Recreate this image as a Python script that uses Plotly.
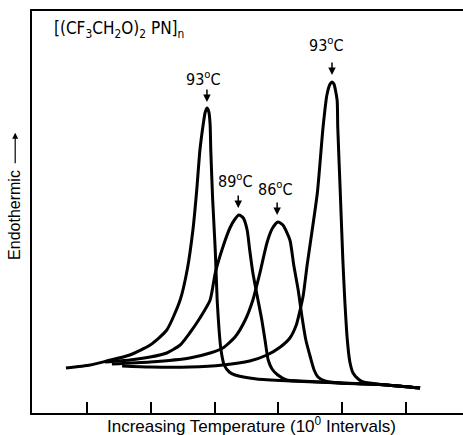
import plotly.graph_objects as go

# Temperature offset (deg C, ticks every 10 deg) and endothermic signal (arbitrary units)
c1_x = [-3.3, 0.5, 3.1, 6.7, 9.9, 12.5, 14.6, 15.7, 16.6, 17.2, 17.7, 18.2, 18.5, 18.8, 19.1, 19.3, 19.4, 19.7, 20.1, 20.4, 20.7, 21.0, 21.5, 22.3, 23.2, 26.6, 31.8, 39.7, 47.0, 52.2]
c1_y = [11.25, 12, 13, 14.5, 17, 20.75, 28.25, 35.75, 45.75, 55.75, 65.75, 72, 75, 76.25, 75.25, 72, 65.75, 53.25, 40.75, 28.25, 20.75, 15.75, 12, 10.25, 9.5, 8.5, 8, 7.5, 7, 6.25]

c2_x = [2.8, 6.7, 9.9, 12.5, 14.6, 16.1, 17.7, 19.3, 20.1, 21.3, 22.4, 23.2, 23.8, 24.5, 25.1, 25.5, 26.0, 26.8, 27.4, 27.9, 28.4, 29.0, 29.9, 31.3, 33.4, 39.7, 47.0, 52.2]
c2_y = [12.75, 13.25, 14, 15, 17, 20, 23.75, 28.25, 35, 41.5, 46.25, 48.5, 49.5, 48.75, 45.75, 40.75, 35, 28.25, 23.25, 18.25, 13.25, 11, 9.5, 8.25, 8, 7.5, 7, 6.25]

c3_x = [3.9, 9.9, 16.1, 19.3, 21.3, 23.2, 24.8, 26.0, 27.1, 28.2, 29.0, 29.9, 30.7, 31.8, 32.4, 33.1, 33.7, 34.3, 35.0, 35.6, 36.2, 37.3, 39.7, 47.0, 52.2]
c3_y = [12.25, 12.75, 13.75, 15, 16.25, 19, 23.25, 28.25, 35, 42.5, 46, 47.75, 47, 43.25, 37, 30.75, 24, 18.25, 14, 10.75, 9, 8, 7.5, 7, 6.25]

c4_x = [5.5, 9.9, 16.1, 21.3, 25.5, 28.2, 30.3, 31.8, 32.8, 33.4, 33.9, 34.5, 35.0, 36.1, 37.0, 37.6, 38.1, 38.4, 38.7, 39.2, 39.3, 39.7, 40.1, 40.4, 40.8, 41.2, 41.7, 42.5, 43.3, 47.0, 52.2]
c4_y = [11.75, 11.5, 11.5, 12, 13, 14.5, 16.5, 18.75, 22, 25.75, 29.5, 37, 42.5, 55, 71.5, 79.5, 82.25, 82.75, 82.25, 78.25, 71.5, 55, 38.25, 28.25, 18.25, 12.75, 10, 8.5, 7.75, 7, 6.25]

curves_x = [c1_x, c2_x, c3_x, c4_x]
curves_y = [c1_y, c2_y, c3_y, c4_y]

peak_labels = ["93<sup>o</sup>C", "89<sup>o</sup>C", "86<sup>o</sup>C", "93<sup>o</sup>C"]
label_x = [18.3, 23.2, 29.6, 37.5]
label_y = [83.75, 58.25, 56.25, 92.25]
arrow_x = [18.8, 23.7, 29.8, 38.4]
arrow_tip_y = [77.75, 51.25, 49.5, 84.5]

tick_vals = [0, 10, 20, 30, 40, 50]

title_text = "[(CF<sub>3</sub>CH<sub>2</sub>O)<sub>2</sub> PN]<sub>n</sub>"
x_title = "Increasing Temperature (10<sup>0</sup> Intervals)"
y_title = "Endothermic"

FONT = "Liberation Sans Narrow, DejaVu Sans Condensed, Liberation Sans, sans-serif"

fig = go.Figure()
for xs, ys in zip(curves_x, curves_y):
    fig.add_trace(go.Scatter(x=xs, y=ys, mode="lines",
                             line=dict(color="black", width=3, shape="spline", smoothing=0.6),
                             hoverinfo="skip", showlegend=False))

for t, lx, ly in zip(peak_labels, label_x, label_y):
    fig.add_annotation(x=lx, y=ly, xref="x", yref="y", text=t, showarrow=False,
                       font=dict(family=FONT, size=16, color="black"),
                       xanchor="center", yanchor="middle")
for ax_, ty in zip(arrow_x, arrow_tip_y):
    fig.add_annotation(x=ax_, y=ty, xref="x", yref="y", text="", showarrow=True,
                       ax=0, ay=-14, arrowhead=2, arrowsize=1, arrowwidth=1.5,
                       arrowcolor="black", standoff=0, startstandoff=0)

fig.add_annotation(x=0.047, y=0.953, xref="paper", yref="paper", text=title_text,
                   showarrow=False, xanchor="left", yanchor="middle",
                   font=dict(family=FONT, size=17, color="black"))
fig.add_annotation(x=0.51, y=-0.030, xref="paper", yref="paper", text=x_title,
                   showarrow=False, xanchor="center", yanchor="middle",
                   font=dict(family="Liberation Sans, sans-serif", size=17, color="black"))
fig.add_annotation(x=-0.042, y=0.4925, xref="paper", yref="paper", text=y_title,
                   showarrow=False, textangle=-90, xanchor="center", yanchor="middle",
                   font=dict(family="Liberation Sans, sans-serif", size=16, color="black"))
fig.add_annotation(x=-0.039, y=0.697, xref="paper", yref="paper", text="",
                   showarrow=True, ax=0, ay=32, arrowhead=2, arrowsize=1,
                   arrowwidth=1.2, arrowcolor="black", standoff=0)

fig.update_layout(
    width=463, height=435,
    margin=dict(l=32, r=0, t=11, b=22),
    paper_bgcolor="white", plot_bgcolor="white",
    xaxis=dict(range=[-8.62, 58.93], showgrid=False, zeroline=False,
               showline=True, mirror=True, linecolor="black", linewidth=2,
               ticks="inside", ticklen=11, tickwidth=2, tickcolor="black",
               tickvals=tick_vals, showticklabels=False, fixedrange=True),
    yaxis=dict(range=[0, 100.5], showgrid=False, zeroline=False,
               showline=True, mirror=False, linecolor="black", linewidth=2,
               ticks="", showticklabels=False, fixedrange=True),
)

fig.write_html("out.html")
